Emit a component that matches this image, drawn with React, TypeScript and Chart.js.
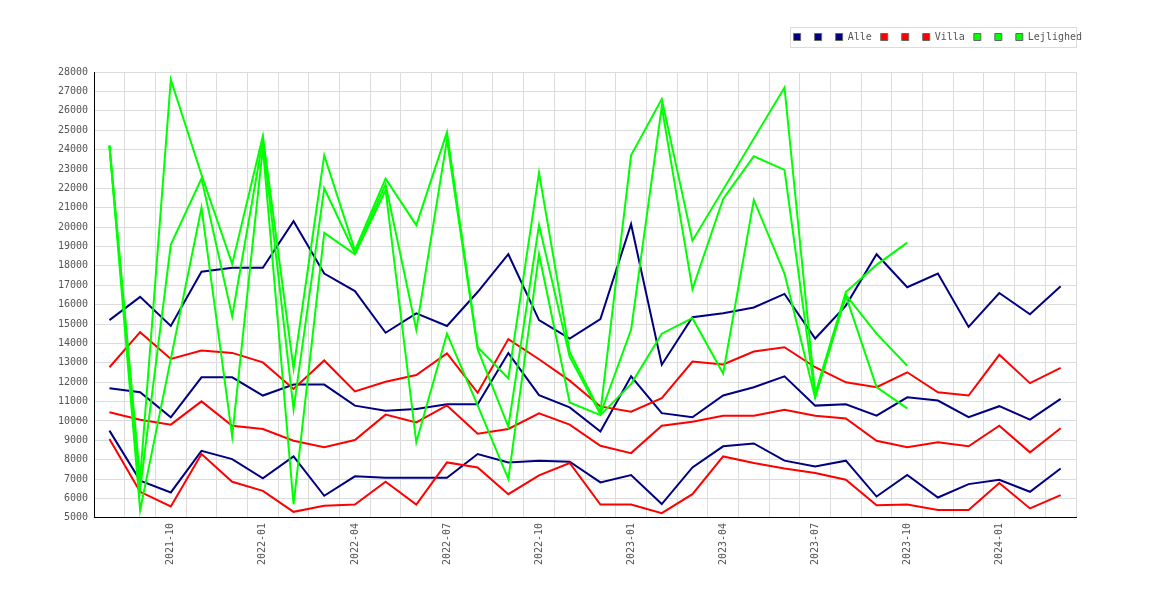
import { useEffect, useRef } from 'react'
import { Chart, registerables } from 'chart.js'
import type { Plugin } from 'chart.js'

Chart.register(...registerables)

// Monthly categories, one point per month
const months = [
  '2021-08', '2021-09', '2021-10', '2021-11', '2021-12',
  '2022-01', '2022-02', '2022-03', '2022-04', '2022-05', '2022-06',
  '2022-07', '2022-08', '2022-09', '2022-10', '2022-11', '2022-12',
  '2023-01', '2023-02', '2023-03', '2023-04', '2023-05', '2023-06',
  '2023-07', '2023-08', '2023-09', '2023-10', '2023-11', '2023-12',
  '2024-01', '2024-02', '2024-03',
]
// only quarter months get a visible tick label
const labelledMonths = ['01', '04', '07', '10']

const alleHigh = [
  15200, 16400, 14900, 17700, 17900, 17900, 20300, 17600, 16700, 14550, 15550,
  14900, 16650, 18600, 15200, 14250, 15250, 20150, 12900, 15350, 15550, 15850,
  16550, 14250, 15950, 18600, 16900, 17600, 14850, 16600, 15500, 16950,
]
const alleMid = [
  11680, 11480, 10190, 12250, 12250, 11310, 11875, 11875, 10790, 10530, 10620,
  10860, 10860, 13500, 11330, 10700, 9450, 12300, 10400, 10190, 11310, 11740,
  12300, 10790, 10860, 10270, 11220, 11050, 10190, 10760, 10065, 11140,
]
const alleLow = [
  9500, 6920, 6310, 8460, 8030, 7040, 8170, 6140, 7140, 7070, 7070,
  7070, 8290, 7860, 7950, 7900, 6830, 7210, 5710, 7600, 8690, 8840,
  7950, 7650, 7950, 6100, 7210, 6050, 6740, 6965, 6345, 7550,
]

const villaHigh = [
  12770, 14580, 13200, 13630, 13510, 13020, 11650, 13120, 11520, 12020, 12370,
  13480, 11450, 14220, 13180, 12080, 10750, 10480, 11170, 13060, 12910, 13580,
  13800, 12770, 11990, 11740, 12510, 11480, 11310, 13410, 11950, 12740,
]
const villaMid = [
  10445, 10065, 9810, 11010, 9755, 9585, 8980, 8640, 9015, 10325, 9925,
  10800, 9340, 9585, 10390, 9810, 8720, 8340, 9755, 9960, 10270, 10270,
  10580, 10270, 10130, 8980, 8640, 8900, 8690, 9755, 8380, 9620,
]
const villaLow = [
  9070, 6345, 5590, 8290, 6860, 6395, 5310, 5620, 5690, 6860, 5690,
  7860, 7600, 6220, 7190, 7830, 5690, 5690, 5240, 6220, 8170, 7830,
  7550, 7310, 6965, 5655, 5690, 5400, 5400, 6795, 5485, 6170,
]

// Lejlighed stops at 2023-10; null = missing month (line bridges it)
const lejlighedHigh = [
  24200, 7000, 27600, 22700, 18100, 24700, 12700, 23700, 18800, 22500, 20100,
  24900, 13800, 12200, 22800, 13550, 10450, 23700, 26600, 19300, null, null,
  27200, 11400, 16650, 18050, 19200,
]
const lejlighedMid = [
  24200, 6500, 19100, 22500, 15400, 24500, 10600, 22000, 18650, 22200, 14700,
  24500, 13700, 9700, 20100, 13300, 10350, 14700, 26200, 16800, 21450, 23650,
  22950, 11300, 16500, 14500, 12850,
]
const lejlighedLow = [
  24200, 5400, 13200, 21000, 9200, 24100, 5700, 19700, 18600, 21900, 8900,
  14500, 10800, 7000, 18600, 10950, 10300, 11900, 14500, 15300, 12450, 21400,
  17600, 11200, 16450, 11750, 10650,
]

const NAVY = '#000080'
const RED = '#ff0000'
const GREEN = '#00ff00'
const GRID = '#dcdcdc'
const TEXT = '#555555'
const FONT = { family: '"DejaVu Sans Mono", monospace', size: 10 }

function series(label: string, data: (number | null)[], color: string, order: number, spanGaps = false) {
  return {
    label,
    data,
    borderColor: color,
    backgroundColor: color,
    borderWidth: 2,
    pointRadius: 0,
    pointHoverRadius: 0,
    tension: 0,
    order,
    spanGaps,
  }
}

// nudge the legend up/right and frame it with a thin grey box
const legendFrame: Plugin<'line'> = {
  id: 'legendFrame',
  afterLayout(chart) {
    const lg = chart.legend
    if (!lg) return
    lg.left += 15
    lg.right += 15
    lg.top -= 20
    lg.bottom -= 20
  },
  afterDraw(chart) {
    const boxes = chart.legend?.legendHitBoxes
    if (!boxes || !boxes.length) return
    const left = Math.min(...boxes.map((b) => b.left)) - 4
    const mid = boxes[0].top + boxes[0].height / 2
    const { ctx, chartArea } = chart
    ctx.save()
    ctx.strokeStyle = GRID
    ctx.lineWidth = 1
    ctx.strokeRect(Math.round(left) + 0.5, Math.round(mid - 10) + 0.5, Math.round(chartArea.right - left), 20)
    ctx.restore()
  },
}

export default function App() {
  const canvasRef = useRef<HTMLCanvasElement>(null)

  useEffect(() => {
    if (!canvasRef.current) return
    const chart = new Chart(canvasRef.current, {
      type: 'line',
      data: {
        labels: months,
        datasets: [
          series('', alleLow, NAVY, 3),
          series('', alleMid, NAVY, 3),
          series('Alle', alleHigh, NAVY, 3),
          series('', villaLow, RED, 2),
          series('', villaMid, RED, 2),
          series('Villa', villaHigh, RED, 2),
          series('', lejlighedLow, GREEN, 1),
          series('', lejlighedMid, GREEN, 1),
          series('Lejlighed', lejlighedHigh, GREEN, 1, true),
        ],
      },
      options: {
        animation: false,
        responsive: true,
        maintainAspectRatio: false,
        layout: { padding: { top: 35, right: 86, bottom: 22, left: 44 } },
        plugins: {
          legend: {
            position: 'top',
            align: 'end',
            labels: {
              boxWidth: 7,
              boxHeight: 7,
              padding: 9,
              color: TEXT,
              font: FONT,
              sort: (a, b) => (a.datasetIndex ?? 0) - (b.datasetIndex ?? 0),
              generateLabels: (c) =>
                Chart.defaults.plugins.legend.labels
                  .generateLabels(c)
                  .map((item) => ({ ...item, strokeStyle: '#666666', lineWidth: 1 })),
            },
          },
          tooltip: { enabled: false },
        },
        scales: {
          x: {
            offset: true,
            grid: { offset: true, color: GRID, drawTicks: false },
            border: { color: '#000000' },
            ticks: {
              autoSkip: false,
              maxRotation: 90,
              minRotation: 90,
              padding: 5,
              color: TEXT,
              font: FONT,
              callback: (_v, i) => (labelledMonths.includes(months[i].slice(5)) ? months[i] : ''),
            },
          },
          y: {
            min: 5000,
            max: 28000,
            grid: { color: GRID, drawTicks: false },
            border: { color: '#000000' },
            ticks: {
              stepSize: 1000,
              autoSkip: false,
              padding: 6,
              color: TEXT,
              font: FONT,
              callback: (v) => String(v),
            },
          },
        },
      },
      plugins: [legendFrame],
    })
    return () => chart.destroy()
  }, [])

  return (
    <div style={{ position: 'relative', width: 1154, height: 584 }}>
      <canvas ref={canvasRef} role="img" aria-label="Alle, Villa og Lejlighed pr. måned" />
    </div>
  )
}
